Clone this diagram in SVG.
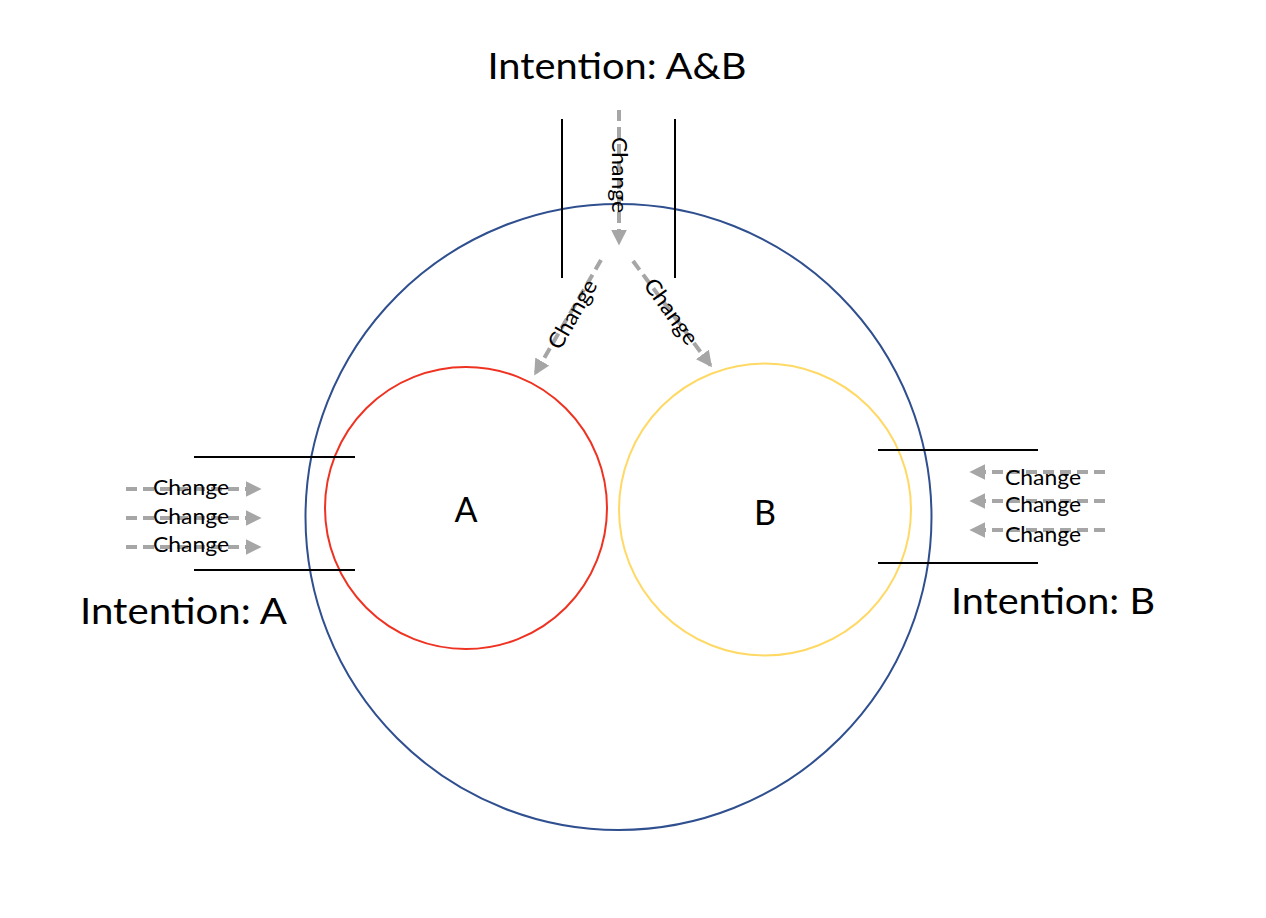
<svg xmlns="http://www.w3.org/2000/svg" width="1266" height="918" viewBox="0 0 1266 918">
<defs>
<marker id="ah" viewBox="0 0 10 10" refX="9" refY="5" markerWidth="4" markerHeight="4" markerUnits="strokeWidth" orient="auto">
<path d="M0,0 L10,5 L0,10 z" fill="#A6A6A6"/>
</marker>
</defs>
<style>
.big{font-family:Lato,"Liberation Sans",sans-serif;font-size:36px;fill:#000}
.lbl{font-family:Lato,"Liberation Sans",sans-serif;font-size:34px;fill:#000}
.ch{font-family:Lato,"Liberation Sans",sans-serif;font-size:22px;fill:#000}
.arr{stroke:#A6A6A6;stroke-width:4;stroke-dasharray:11 6;fill:none}
.ln{stroke:#000;stroke-width:1.3;fill:none;shape-rendering:crispEdges}
</style>
<rect width="1266" height="918" fill="#fff"/>
<g id="outer"><circle cx="618.5" cy="517" r="313" fill="none" stroke="#2F4F8F" stroke-width="2"/></g>
<g id="nodeA"><circle cx="466" cy="508" r="141" fill="none" stroke="#EE3322" stroke-width="2"/><text class="lbl" x="466" y="522" text-anchor="middle">A</text></g>
<g id="nodeB"><circle cx="765" cy="509.5" r="146" fill="none" stroke="#FFD966" stroke-width="2"/><text class="lbl" x="765" y="525" text-anchor="middle">B</text></g>
<g id="titles">
<text class="big" x="617" y="79" text-anchor="middle" textLength="259" lengthAdjust="spacingAndGlyphs">Intention: A&amp;B</text>
<text class="big" x="80" y="624" textLength="207" lengthAdjust="spacingAndGlyphs">Intention: A</text>
<text class="big" x="951" y="614" textLength="204" lengthAdjust="spacingAndGlyphs">Intention: B</text>
</g>
<g id="boundaries">
<line class="ln" x1="562" y1="119" x2="562" y2="278"/>
<line class="ln" x1="675" y1="119" x2="675" y2="278"/>
<line class="ln" x1="194" y1="457" x2="355" y2="457"/>
<line class="ln" x1="194" y1="570" x2="355" y2="570"/>
<line class="ln" x1="878" y1="450" x2="1038" y2="450"/>
<line class="ln" x1="878" y1="563" x2="1038" y2="563"/>
</g>
<g id="connectors">
<line class="arr" x1="619" y1="110" x2="619" y2="244" marker-end="url(#ah)"/>
<line class="arr" x1="601" y1="260" x2="535" y2="374" marker-end="url(#ah)"/>
<line class="arr" x1="633" y1="261" x2="711" y2="366" marker-end="url(#ah)"/>
<line class="arr" x1="126" y1="489" x2="260" y2="489" marker-end="url(#ah)"/>
<line class="arr" x1="126" y1="518" x2="260" y2="518" marker-end="url(#ah)"/>
<line class="arr" x1="126" y1="547" x2="260" y2="547" marker-end="url(#ah)"/>
<line class="arr" x1="1105" y1="472" x2="971" y2="472" marker-end="url(#ah)"/>
<line class="arr" x1="1105" y1="501" x2="971" y2="501" marker-end="url(#ah)"/>
<line class="arr" x1="1105" y1="530" x2="971" y2="530" marker-end="url(#ah)"/>
</g>
<g id="changeLabels">
<text class="ch" text-anchor="middle" textLength="76" lengthAdjust="spacingAndGlyphs" transform="translate(612,175) rotate(90)">Change</text>
<text class="ch" text-anchor="middle" textLength="76" lengthAdjust="spacingAndGlyphs" transform="translate(579,318) rotate(-60)">Change</text>
<text class="ch" text-anchor="middle" textLength="76" lengthAdjust="spacingAndGlyphs" transform="translate(665,316) rotate(54)">Change</text>
<text class="ch" x="191" y="495" text-anchor="middle" textLength="76" lengthAdjust="spacingAndGlyphs">Change</text>
<text class="ch" x="191" y="524" text-anchor="middle" textLength="76" lengthAdjust="spacingAndGlyphs">Change</text>
<text class="ch" x="191" y="552" text-anchor="middle" textLength="76" lengthAdjust="spacingAndGlyphs">Change</text>
<text class="ch" x="1043" y="485" text-anchor="middle" textLength="76" lengthAdjust="spacingAndGlyphs">Change</text>
<text class="ch" x="1043" y="512" text-anchor="middle" textLength="76" lengthAdjust="spacingAndGlyphs">Change</text>
<text class="ch" x="1043" y="542" text-anchor="middle" textLength="76" lengthAdjust="spacingAndGlyphs">Change</text>
</g>
</svg>
